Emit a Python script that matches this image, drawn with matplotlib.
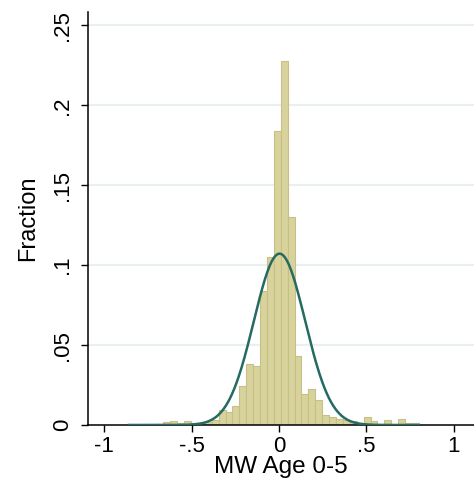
import numpy as np
import matplotlib
matplotlib.use("Agg")
import matplotlib.pyplot as plt

plt.rcParams['font.family'] = ['Liberation Sans', 'DejaVu Sans']

# Histogramme (fraction par classe)
bin_start = -0.859
bin_width = 0.0395
fractions = [0.0005, 0.0, 0.0, 0.0, 0.0005, 0.002, 0.0025, 0.001, 0.0025, 0.001,
             0.001, 0.002, 0.003, 0.0094, 0.008, 0.0118, 0.0242, 0.038, 0.037, 0.084,
             0.1054, 0.184, 0.2275, 0.13, 0.0432, 0.0194, 0.0225, 0.0157, 0.0063, 0.0048,
             0.0038, 0.0033, 0.0025, 0.001, 0.0048, 0.0028, 0.0, 0.003, 0.0, 0.0035,
             0.001, 0.001]

# Courbe normale (moyenne et ecart-type de la variable)
mu = 0.003
sigma = 0.147

x_ticks = [-1, -0.5, 0, 0.5, 1]
x_labels = ['-1', '-.5', '0', '.5', '1']
y_ticks = [0, 0.05, 0.1, 0.15, 0.2, 0.25]
y_labels = ['0', '.05', '.1', '.15', '.2', '.25']

edges = bin_start + bin_width * np.arange(len(fractions) + 1)

fig = plt.figure(figsize=(4.74, 4.87), dpi=100)
ax = fig.add_axes([0.1857, 0.1273, 0.8143, 0.8487])

# grille horizontale
for yt in y_ticks[1:]:
    ax.axhline(yt, color='#eaf0f2', linewidth=1.6, zorder=0)

ax.bar(edges[:-1], fractions, width=bin_width, align='edge',
       color='#d8d39c', edgecolor='#c6bf86', linewidth=0.8, zorder=2)

xs = np.linspace(edges[0], edges[-1], 400)
ys = bin_width * np.exp(-0.5 * ((xs - mu) / sigma) ** 2) / (sigma * np.sqrt(2 * np.pi))
ax.plot(xs, ys, color='#256b62', linewidth=1.8, zorder=3)

ax.set_xlim(-1.0927, 1.1156)
ax.set_ylim(0, 0.2586)
ax.set_xticks(x_ticks)
ax.set_xticklabels(x_labels)
ax.set_yticks(y_ticks)
ax.set_yticklabels(y_labels, rotation=90, va='center')
ax.tick_params(direction='out', length=5, width=1, labelsize=16, pad=3)
ax.tick_params(axis='y', pad=6)

for side in ['top', 'right']:
    ax.spines[side].set_visible(False)
for side in ['left', 'bottom']:
    ax.spines[side].set_linewidth(1.1)

ax.set_xlabel('MW Age 0-5', fontsize=17.5, labelpad=-1)
ax.set_ylabel('Fraction', fontsize=17, labelpad=9)

fig.savefig('out.png', dpi=100)
